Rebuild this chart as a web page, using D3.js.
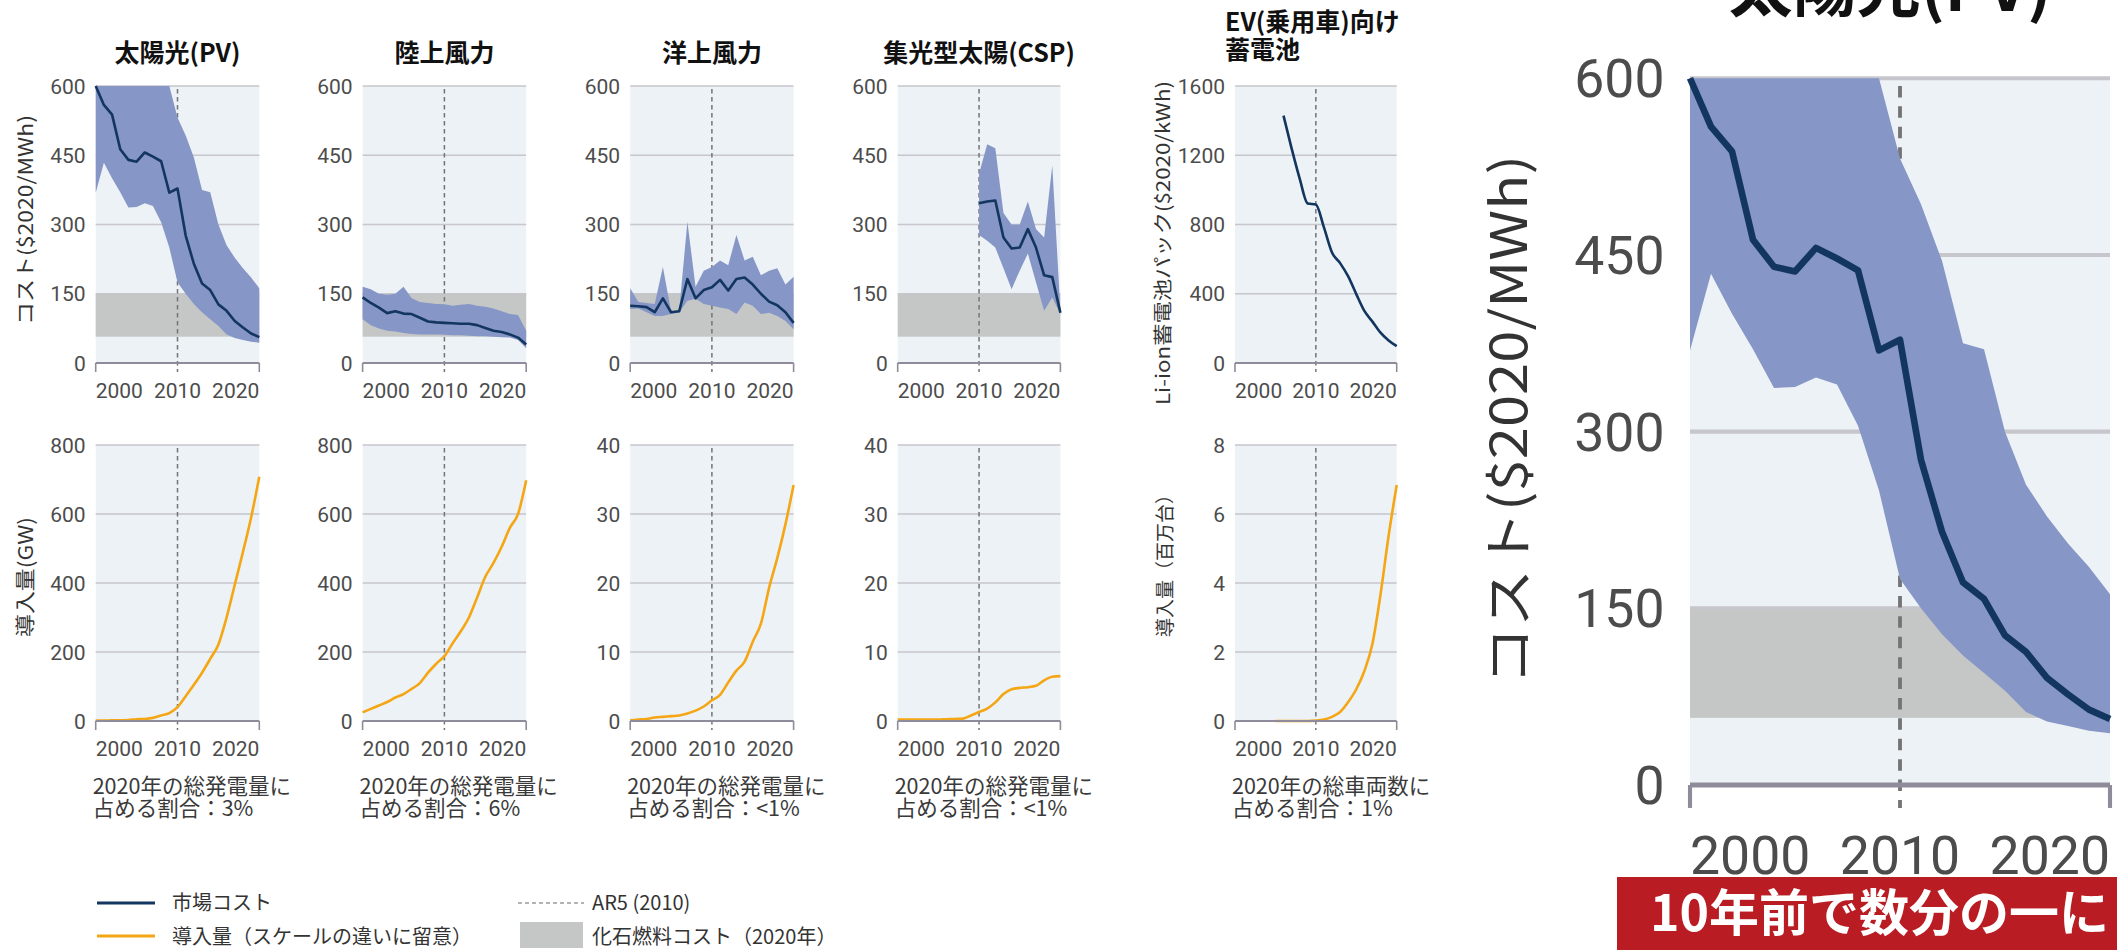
<!DOCTYPE html>
<html>
<head>
<meta charset="utf-8">
<script src="https://cdn.jsdelivr.net/npm/d3@7"></script>
<style>
  body { margin: 0; background: #fff; }
  svg { display: block; }
  text { font-family: "Noto Sans CJK JP", "Noto Sans", sans-serif; }
  .num { font-family: Roboto, "Noto Sans", sans-serif; fill: #4c4c4c; }
</style>
</head>
<body>
<svg id="chart" width="2117" height="950"></svg>
<script>
// --- data ---
const years = [2000, 2001, 2002, 2003, 2004, 2005, 2006, 2007, 2008, 2009, 2010,
               2011, 2012, 2013, 2014, 2015, 2016, 2017, 2018, 2019, 2020];

const pvCost     = [600, 559, 538, 463, 440, 436, 456, 447, 437, 369, 378, 276, 215, 172, 158, 127, 113, 91, 77, 64, 56];
const pvCostLow  = [369, 434, 400, 370, 337, 338, 346, 340, 305, 250, 175, 150, 128, 110, 95, 80, 62, 54, 50, 46, 44];
const pvCostHigh = [600, 600, 600, 600, 600, 600, 600, 600, 600, 600, 532, 493, 445, 375, 370, 300, 255, 228, 205, 185, 162];

const onshoreCost     = [142, 130, 120, 108, 112, 107, 106, 98, 90, 88, 87, 86, 85, 85, 82, 76, 70, 67, 62, 55, 40];
const onshoreCostLow  = [95, 82, 75, 70, 68, 65, 63, 62, 62, 62, 61, 60, 60, 59, 58, 58, 57, 56, 55, 50, 32];
const onshoreCostHigh = [165, 160, 150, 148, 150, 165, 140, 132, 130, 128, 127, 124, 126, 128, 124, 122, 118, 112, 106, 104, 70];

const offshoreCost     = [124, 123, 121, 110, 140, 110, 112, 182, 140, 158, 164, 180, 157, 182, 185, 170, 150, 133, 125, 110, 87];
const offshoreCostLow  = [117, 118, 110, 102, 102, 106, 110, 135, 139, 128, 124, 120, 117, 106, 131, 124, 106, 109, 102, 91, 73];
const offshoreCostHigh = [162, 132, 130, 128, 208, 112, 114, 306, 165, 200, 208, 222, 212, 277, 222, 230, 190, 200, 205, 170, 187];

const cspYears    = [2010, 2011, 2012, 2013, 2014, 2015, 2016, 2017, 2018, 2019, 2020];
const cspCost     = [346, 350, 352, 272, 248, 250, 290, 250, 190, 186, 109];
const cspCostLow  = [277, 265, 250, 205, 160, 200, 237, 175, 113, 142, 106];
const cspCostHigh = [410, 474, 465, 325, 300, 300, 350, 290, 272, 428, 114];

const evCostYears = [2006, 2007, 2008, 2009, 2010, 2011, 2012, 2013, 2014, 2015, 2016, 2017, 2018, 2019, 2020];
const evCost      = [1429, 1240, 1065, 921, 915, 783, 638, 577, 500, 398, 301, 239, 175, 130, 97];

const pvGW       = [1, 1, 2, 2, 3, 5, 6, 9, 16, 23, 40, 72, 105, 140, 180, 222, 300, 395, 490, 590, 708];
const onshoreGW  = [25, 35, 45, 55, 68, 78, 93, 110, 140, 166, 188, 225, 260, 300, 358, 418, 458, 505, 560, 600, 698];
const offshoreGW = [0.1, 0.2, 0.3, 0.5, 0.6, 0.7, 0.8, 1.1, 1.5, 2.1, 3.0, 3.8, 5.6, 7.3, 8.6, 11.5, 14.1, 19.3, 23.6, 28.5, 34.2];
const cspGW      = [0.2, 0.2, 0.2, 0.2, 0.2, 0.2, 0.25, 0.3, 0.35, 0.8, 1.3, 1.8, 2.7, 3.9, 4.6, 4.8, 4.9, 5.1, 5.9, 6.4, 6.5];

const evStockYears = [2005, 2006, 2007, 2008, 2009, 2010, 2011, 2012, 2013, 2014, 2015, 2016, 2017, 2018, 2019, 2020];
const evStock      = [0, 0, 0, 0, 0, 0.01, 0.04, 0.12, 0.26, 0.55, 0.92, 1.45, 2.24, 3.67, 5.37, 6.84];

const fossilRange  = [57, 150];
const costTicks    = [0, 150, 300, 450, 600];
const batteryTicks = [0, 400, 800, 1200, 1600];
const gwTicks      = [0, 200, 400, 600, 800];
const smallGwTicks = [0, 10, 20, 30, 40];
const evTicks      = [0, 2, 4, 6, 8];
const yearTicks    = [2000, 2010, 2020];

const titles = ["太陽光(PV)", "陸上風力", "洋上風力", "集光型太陽(CSP)"];
const shareLines = [
  ["2020年の総発電量に", "占める割合：3%"],
  ["2020年の総発電量に", "占める割合：6%"],
  ["2020年の総発電量に", "占める割合：<1%"],
  ["2020年の総発電量に", "占める割合：<1%"],
  ["2020年の総車両数に", "占める割合：1%"]
];

const NAVY = "#12365f", BAND = "#8696c6", ORANGE = "#f4a614", FOSSIL = "#c5c7c6";

const svg = d3.select("#chart");
svg.append("rect").attr("width", 2117).attr("height", 950).attr("fill", "#fff");

// one small-multiple panel; k scales strokes and fonts (used for the enlarged inset)
function drawPanel(cfg) {
  const k = cfg.k || 1;
  const g = svg.append("g");
  const x = d3.scaleLinear().domain([2000, 2020]).range([cfg.left, cfg.right]);
  const y = d3.scaleLinear().domain([0, cfg.yMax]).range([cfg.bottom, cfg.top]);

  g.append("rect")
    .attr("x", cfg.left).attr("y", cfg.top)
    .attr("width", cfg.right - cfg.left).attr("height", cfg.bottom - cfg.top)
    .attr("fill", "#edf2f6");

  if (cfg.fossil) {
    g.append("rect")
      .attr("x", cfg.left).attr("width", cfg.right - cfg.left)
      .attr("y", y(fossilRange[1])).attr("height", y(fossilRange[0]) - y(fossilRange[1]))
      .attr("fill", FOSSIL);
  }

  g.selectAll(".grid").data(cfg.ticks.filter(d => d > 0)).join("line")
    .attr("x1", cfg.left).attr("x2", cfg.right)
    .attr("y1", d => y(d)).attr("y2", d => y(d))
    .attr("stroke", "#c6c6cc").attr("stroke-width", 1.6 * k);

  // AR5 (2010) marker
  g.append("line")
    .attr("x1", x(2010)).attr("x2", x(2010))
    .attr("y1", cfg.top + 3 * k).attr("y2", cfg.bottom + 9 * k)
    .attr("stroke", "#747474").attr("stroke-width", 1.5 * k)
    .attr("stroke-dasharray", `${4.5 * k},${3.5 * k}`);

  if (cfg.band) {
    const area = d3.area()
      .x(d => x(d[0])).y0(d => y(d[1])).y1(d => y(d[2]));
    g.append("path")
      .datum(d3.zip(cfg.band.years, cfg.band.low, cfg.band.high))
      .attr("d", area)
      .attr("fill", BAND);
  }

  const line = d3.line()
    .x(d => x(d[0])).y(d => y(d[1]))
    .curve(cfg.smooth ? d3.curveMonotoneX : d3.curveLinear);
  g.append("path")
    .datum(d3.zip(cfg.series.years, cfg.series.values))
    .attr("d", line)
    .attr("fill", "none")
    .attr("stroke", cfg.color)
    .attr("stroke-width", 2.6 * k)
    .attr("stroke-linejoin", "round");

  // zero axis with end ticks
  g.append("line")
    .attr("x1", cfg.left).attr("x2", cfg.right)
    .attr("y1", cfg.bottom).attr("y2", cfg.bottom)
    .attr("stroke", "#8f8b9b").attr("stroke-width", 2 * k);
  g.selectAll(".endtick").data([cfg.left, cfg.right]).join("line")
    .attr("x1", d => d).attr("x2", d => d)
    .attr("y1", cfg.bottom).attr("y2", cfg.bottom + 9 * k)
    .attr("stroke", "#8f8b9b").attr("stroke-width", 1.6 * k);

  g.selectAll(".ylab").data(cfg.ticks).join("text")
    .attr("class", "num")
    .attr("x", cfg.left - 10 * k)
    .attr("y", d => y(d) + 7.5 * k)
    .attr("text-anchor", "end")
    .style("font-size", (21 * k) + "px")
    .text(d => d);

  const anchors = ["start", "middle", "end"];
  g.selectAll(".xlab").data(yearTicks).join("text")
    .attr("class", "num")
    .attr("x", d => x(d))
    .attr("y", cfg.bottom + 35 * k)
    .attr("text-anchor", (d, i) => anchors[i])
    .style("font-size", (21 * k) + "px")
    .text(d => d);

  return g;
}

const lefts = [95.7, 362.6, 630.2, 897.7, 1235];
const rights = [259.3, 526.2, 793.6, 1060.4, 1396.7];
const TOP1 = 86, BOT1 = 363, TOP2 = 445, BOT2 = 721;

const costSets = [
  { values: pvCost, low: pvCostLow, high: pvCostHigh },
  { values: onshoreCost, low: onshoreCostLow, high: onshoreCostHigh },
  { values: offshoreCost, low: offshoreCostLow, high: offshoreCostHigh }
];
costSets.forEach((s, i) => {
  drawPanel({
    left: lefts[i], right: rights[i], top: TOP1, bottom: BOT1,
    yMax: 600, ticks: costTicks, fossil: true,
    band: { years: years, low: s.low, high: s.high },
    series: { years: years, values: s.values }, color: NAVY
  });
});
drawPanel({
  left: lefts[3], right: rights[3], top: TOP1, bottom: BOT1,
  yMax: 600, ticks: costTicks, fossil: true,
  band: { years: cspYears, low: cspCostLow, high: cspCostHigh },
  series: { years: cspYears, values: cspCost }, color: NAVY
});
drawPanel({
  left: lefts[4], right: rights[4], top: TOP1, bottom: BOT1,
  yMax: 1600, ticks: batteryTicks,
  series: { years: evCostYears, values: evCost }, color: NAVY, smooth: true
});

const gwSets = [
  { values: pvGW, yMax: 800, ticks: gwTicks },
  { values: onshoreGW, yMax: 800, ticks: gwTicks },
  { values: offshoreGW, yMax: 40, ticks: smallGwTicks },
  { values: cspGW, yMax: 40, ticks: smallGwTicks }
];
gwSets.forEach((s, i) => {
  drawPanel({
    left: lefts[i], right: rights[i], top: TOP2, bottom: BOT2,
    yMax: s.yMax, ticks: s.ticks,
    series: { years: years, values: s.values }, color: ORANGE, smooth: true
  });
});
drawPanel({
  left: lefts[4], right: rights[4], top: TOP2, bottom: BOT2,
  yMax: 8, ticks: evTicks,
  series: { years: evStockYears, values: evStock }, color: ORANGE, smooth: true
});

// panel titles
titles.forEach((t, i) => {
  svg.append("text")
    .attr("x", (lefts[i] + rights[i]) / 2).attr("y", 62)
    .attr("text-anchor", "middle")
    .style("font-size", "25px").style("font-weight", 700).attr("fill", "#111")
    .text(t);
});
const evTitle = svg.append("text").attr("y", 31)
  .style("font-size", "25px").style("font-weight", 700).attr("fill", "#111");
evTitle.append("tspan").attr("x", 1225).text("EV(乗用車)向け");
evTitle.append("tspan").attr("x", 1225).attr("dy", 28).text("蓄電池");

// axis titles
function vLabel(x, y, txt, size, len) {
  svg.append("text")
    .attr("transform", `translate(${x},${y}) rotate(-90)`)
    .attr("text-anchor", "middle")
    .attr("dy", "0.35em")
    .attr("textLength", len).attr("lengthAdjust", "spacingAndGlyphs")
    .style("font-size", size + "px").attr("fill", "#333")
    .text(txt);
}
vLabel(26, 220, "コスト($2020/MWh)", 20, 210);
vLabel(26, 577, "導入量(GW)", 20, 120);
vLabel(1163, 243, "Li-ion蓄電池パック($2020/kWh)", 19, 324);
vLabel(1165, 561, "導入量（百万台）", 19, 152);

// share notes under the bottom row (two lines in one text)
shareLines.forEach((pair, i) => {
  const t = svg.append("text")
    .attr("y", 794)
    .style("font-size", "21.5px").attr("fill", "#3a3a3a");
  pair.forEach((s, j) => {
    t.append("tspan").attr("x", lefts[i] - 3).attr("dy", j === 0 ? 0 : 22).text(s);
  });
});

// legend
const legend = svg.append("g");
legend.append("line").attr("x1", 97).attr("x2", 155).attr("y1", 903).attr("y2", 903)
  .attr("stroke", NAVY).attr("stroke-width", 3);
legend.append("line").attr("x1", 97).attr("x2", 155).attr("y1", 936).attr("y2", 936)
  .attr("stroke", ORANGE).attr("stroke-width", 3);
legend.append("line").attr("x1", 518).attr("x2", 584).attr("y1", 903).attr("y2", 903)
  .attr("stroke", "#9a9a9a").attr("stroke-width", 1.5).attr("stroke-dasharray", "4,3");
legend.append("rect").attr("x", 520).attr("y", 922).attr("width", 63).attr("height", 26)
  .attr("fill", FOSSIL);
[["市場コスト", 172, 910], ["導入量（スケールの違いに留意）", 172, 944],
 ["AR5 (2010)", 592, 910], ["化石燃料コスト（2020年）", 592, 944]].forEach(d => {
  legend.append("text").attr("x", d[1]).attr("y", d[2])
    .style("font-size", "20px").attr("fill", "#333").text(d[0]);
});

// enlarged PV inset on the right
const K = 2.55;
drawPanel({
  left: 1690, right: 2110, top: 78.3, bottom: 785, k: K,
  yMax: 600, ticks: costTicks, fossil: true,
  band: { years: years, low: pvCostLow, high: pvCostHigh },
  series: { years: years, values: pvCost }, color: NAVY
});
svg.append("text")
  .attr("x", 1890).attr("y", 11)
  .attr("text-anchor", "middle")
  .style("font-size", "64px").style("font-weight", 700).attr("fill", "#111")
  .text("太陽光(PV)");
vLabel(1509, 420, "コスト($2020/MWh)", 50, 530);

// caption banner
svg.append("rect").attr("x", 1617).attr("y", 877).attr("width", 500).attr("height", 73)
  .attr("fill", "#b91c23");
svg.append("text").attr("x", 1650).attr("y", 931)
  .style("font-size", "50px").style("font-weight", 700).attr("fill", "#fff")
  .text("10年前で数分の一に");
</script>
</body>
</html>
